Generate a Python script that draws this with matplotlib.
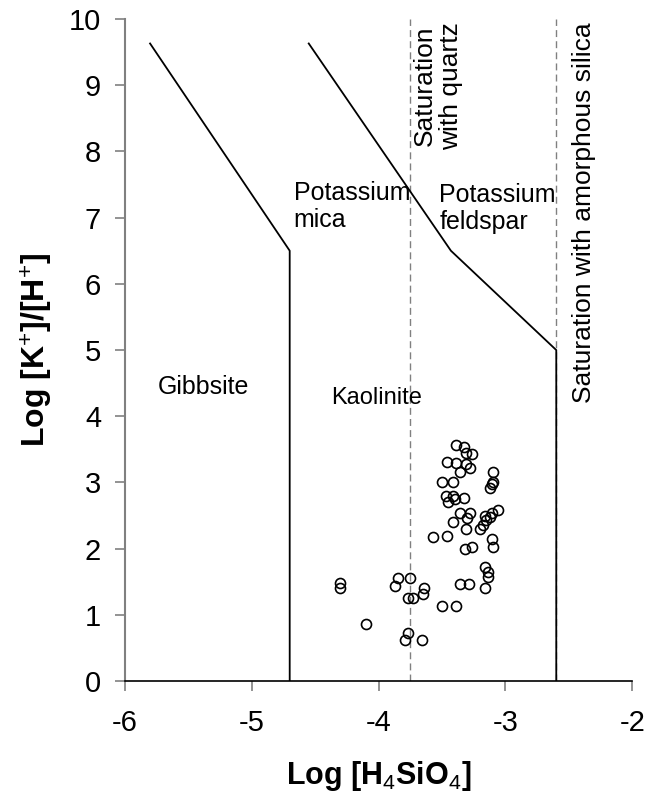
import matplotlib as mpl
import matplotlib.pyplot as plt

# stability field boundaries (log [H4SiO4], log [K+]/[H+])
gibbsite_x = [-5.80, -4.70, -4.70]
gibbsite_y = [9.63, 6.50, 0.0]
feldspar_x = [-4.55, -3.43, -2.60, -2.60]
feldspar_y = [9.63, 6.50, 5.00, 0.0]
quartz_sat = -3.75
amorph_sat = -2.60

# water samples
sample_x = [
    -3.39, -3.33, -3.31, -3.26, -3.46, -3.39, -3.31, -3.28, -3.36, -3.10,
    -3.50, -3.41, -3.10, -3.11, -3.12, -3.47, -3.45, -3.41, -3.40, -3.33,
    -3.36, -3.28, -3.30, -3.16, -3.06, -3.11, -3.12, -3.15, -3.41, -3.18,
    -3.20, -3.31, -3.57, -3.46, -3.11, -3.10, -3.32, -3.26, -3.16, -3.14,
    -3.14, -3.16, -3.36, -3.29, -3.50, -3.39, -4.30, -4.30, -3.85, -3.75,
    -3.87, -3.64, -3.65, -3.77, -3.73, -4.10, -3.77, -3.79, -3.66,
]
sample_y = [
    3.56, 3.53, 3.44, 3.43, 3.31, 3.29, 3.28, 3.22, 3.16, 3.16,
    3.00, 3.00, 3.01, 2.97, 2.91, 2.80, 2.71, 2.79, 2.75, 2.76,
    2.54, 2.54, 2.46, 2.50, 2.59, 2.54, 2.48, 2.44, 2.41, 2.36,
    2.30, 2.30, 2.17, 2.19, 2.14, 2.02, 1.99, 2.02, 1.72, 1.65,
    1.58, 1.40, 1.46, 1.46, 1.13, 1.13, 1.48, 1.40, 1.56, 1.56,
    1.44, 1.41, 1.31, 1.25, 1.25, 0.87, 0.72, 0.62, 0.62,
]

mpl.rcParams.update({
    "font.family": ["Liberation Sans", "DejaVu Sans"],
    "font.size": 21,
    "axes.unicode_minus": False,
    "mathtext.fontset": "custom",
    "mathtext.rm": "Liberation Sans",
    "mathtext.bf": "Liberation Sans:bold",
    "mathtext.it": "Liberation Sans:italic",
})

fig = plt.figure(figsize=(6.46, 8.08), dpi=100)
ax = fig.add_axes([0.193, 0.157, 0.786, 0.8195])

ax.plot(gibbsite_x, gibbsite_y, color="black", lw=1.3, zorder=3)
ax.plot(feldspar_x, feldspar_y, color="black", lw=1.3, zorder=3)
for xs in (quartz_sat, amorph_sat):
    ax.axvline(xs, color="#808080", lw=1.0, ls=(0, (5, 3)), zorder=2)

ax.plot(sample_x, sample_y, "o", ms=7.2, mfc="none", mec="black", mew=1.2, zorder=4)

fs = 18
ax.text(-5.74, 4.44, "Gibbsite", fontsize=fs, va="center", ha="left")
ax.text(-4.37, 4.28, "Kaolinite", fontsize=17, va="center", ha="left")
ax.text(-4.67, 7.55, "Potassium\nmica", fontsize=fs, va="top", ha="left", linespacing=1.15)
ax.text(-3.52, 7.52, "Potassium\nfeldspar", fontsize=fs, va="top", ha="left", linespacing=1.15)
ax.text(-3.53, 9.95, "Saturation\nwith quartz", fontsize=19, va="top", ha="center",
        rotation=90, linespacing=1.1)
ax.text(-2.38, 9.95, "Saturation with amorphous silica", fontsize=19, va="top",
        ha="center", rotation=90)

ax.set_xlim(-6, -2)
ax.set_ylim(0, 10)
ax.set_xticks([-6, -5, -4, -3, -2])
ax.set_yticks(range(0, 11))
ax.spines["top"].set_visible(False)
ax.spines["right"].set_visible(False)
ax.spines["left"].set_color("#808080")
ax.spines["left"].set_linewidth(1.5)
ax.spines["bottom"].set_color("black")
ax.spines["bottom"].set_linewidth(1.2)
ax.tick_params(axis="both", direction="out", length=7, width=1.2, color="#808080")
ax.tick_params(axis="x", pad=13)
ax.tick_params(axis="y", pad=10)

ax.set_xlabel("Log [H$_4$SiO$_4$]", fontsize=22, fontweight="bold", labelpad=16)
ax.set_ylabel("Log [K$^{+}$]/[H$^{+}$]", fontsize=23, fontweight="bold", labelpad=10)

fig.savefig("out.png", dpi=100)
